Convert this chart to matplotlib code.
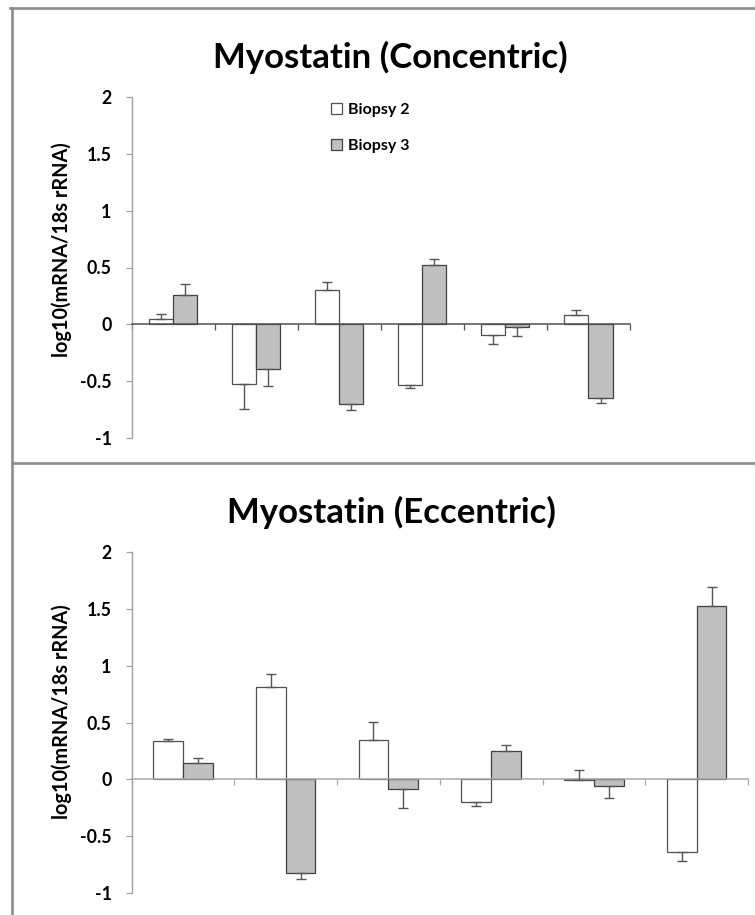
import matplotlib
matplotlib.use("Agg")
import matplotlib.pyplot as plt
from matplotlib.patches import Patch
from matplotlib.lines import Line2D
import numpy as np

W, H, DPI = 755, 915, 100

# ---------------- data ----------------
groups = ["1", "2", "3", "4", "5", "6"]          # unlabeled categories
series = ["Biopsy 2", "Biopsy 3"]
ytick_values = [-1, -0.5, 0, 0.5, 1, 1.5, 2]
ytick_labels = ["-1", "-0.5", "0", "0.5", "1", "1.5", "2"]
ylabel_text = "log10(mRNA/18s rRNA)"
title_conc = "Myostatin (Concentric)"
title_ecc = "Myostatin (Eccentric)"

conc_b2 = [0.044, -0.528, 0.299, -0.537, -0.091, 0.079]
conc_b2_err = [0.044, 0.214, 0.074, 0.023, 0.082, 0.044]
conc_b2_dir = [1, -1, 1, -1, -1, 1]
conc_b3 = [0.255, -0.393, -0.704, 0.522, -0.020, -0.648]
conc_b3_err = [0.100, 0.150, 0.053, 0.053, 0.080, 0.047]
conc_b3_dir = [1, -1, -1, 1, -1, -1]

ecc_b2 = [0.334, 0.808, 0.343, -0.203, -0.009, -0.640]
ecc_b2_err = [0.018, 0.116, 0.160, 0.035, 0.087, 0.081]
ecc_b2_dir = [1, 1, 1, -1, 1, -1]
ecc_b3 = [0.148, -0.820, -0.081, 0.247, -0.061, 1.528]
ecc_b3_err = [0.038, 0.058, 0.175, 0.052, 0.099, 0.161]
ecc_b3_dir = [1, -1, -1, 1, -1, 1]

# ---------------- style ----------------
plt.rcParams["font.family"] = ["Lato", "DejaVu Sans"]
FRAME = "#8c8c8c"
AXIS_GRAY = "#a0a0a0"
EDGE = "#505050"
GRAY_FILL = "#c0c0c0"

fig = plt.figure(figsize=(W / DPI, H / DPI), dpi=DPI)
renderer = fig.canvas.get_renderer()


def px_axes(left, right, top, bottom):
    return fig.add_axes([left / W, 1 - bottom / H, (right - left) / W, (bottom - top) / H])


def fx(x):
    return x / W


def fy(y):
    return 1 - y / H


def fit_width(t, target):
    bb = t.get_window_extent(renderer)
    t.set_fontsize(t.get_fontsize() * target / bb.width)


def fit_height(t, target):
    bb = t.get_window_extent(renderer)
    t.set_fontsize(t.get_fontsize() * target / bb.height)


def draw_panel(ax, b2, b2e, b2d, b3, b3e, b3d, zero_color):
    x = np.arange(len(groups))
    w = 0.29
    ax.bar(x - w / 2, b2, w, color="white", edgecolor=EDGE, linewidth=0.9, zorder=2)
    ax.bar(x + w / 2, b3, w, color=GRAY_FILL, edgecolor="#404040", linewidth=0.9, zorder=2)
    for xs, v, e, d in [(x - w / 2, b2, b2e, b2d), (x + w / 2, b3, b3e, b3d)]:
        e = np.asarray(e)
        d = np.asarray(d)
        lower = np.where(d < 0, e, 0.0)
        upper = np.where(d > 0, e, 0.0)
        ax.errorbar(xs, v, yerr=[lower, upper], fmt="none", ecolor="#555555",
                    elinewidth=1.0, capsize=3.6, capthick=1.0, zorder=3)
    ax.set_xlim(-0.5, len(groups) - 0.5)
    ax.set_ylim(-1, 2)
    ax.set_yticks(ytick_values)
    ax.set_yticklabels(ytick_labels, fontweight="bold", fontsize=12.8, color="black")
    ax.set_xticks(np.arange(len(groups) + 1) - 0.5)
    ax.set_xticklabels([])
    for s in ["top", "right"]:
        ax.spines[s].set_visible(False)
    ax.spines["left"].set_color(AXIS_GRAY)
    ax.spines["left"].set_linewidth(1.0)
    ax.spines["bottom"].set_position(("data", 0))
    ax.spines["bottom"].set_color(zero_color)
    ax.spines["bottom"].set_linewidth(1.1)
    ax.tick_params(axis="y", direction="out", length=4.3, width=0.9, color=AXIS_GRAY, pad=10)
    ax.tick_params(axis="x", direction="out", length=4.3, width=0.9, color=zero_color)
    ax.set_facecolor("none")


# top panel
ax1 = px_axes(131.5, 630, 97, 438)
draw_panel(ax1, conc_b2, conc_b2_err, conc_b2_dir, conc_b3, conc_b3_err, conc_b3_dir, "#505050")

# bottom panel
ax2 = px_axes(131.5, 748, 552, 893)
draw_panel(ax2, ecc_b2, ecc_b2_err, ecc_b2_dir, ecc_b3, ecc_b3_err, ecc_b3_dir, "#a8a8a8")

# legend (top panel only)
handles = [Patch(facecolor="white", edgecolor=EDGE, linewidth=0.9),
           Patch(facecolor=GRAY_FILL, edgecolor="#404040", linewidth=0.9)]
leg = ax1.legend(handles, series, loc="upper left",
                 bbox_to_anchor=((331 - 131.5) / 498.5, (438 - 103) / 341),
                 frameon=False, borderpad=0, borderaxespad=0,
                 handlelength=0.68, handleheight=0.72, handletextpad=0.36,
                 labelspacing=1.35, prop={"weight": "bold", "size": 11.5})

# titles
t1 = fig.text(fx(390), fy(68), title_conc, ha="center", va="baseline",
              fontweight="bold", fontsize=24)
fit_width(t1, 355)
t2 = fig.text(fx(391), fy(523), title_ecc, ha="center", va="baseline",
              fontweight="bold", fontsize=t1.get_fontsize())

# y labels
y1 = fig.text(fx(62), fy(250), ylabel_text, rotation=90, ha="center", va="center",
              fontweight="bold", fontsize=11)
fit_height(y1, 214)
y2 = fig.text(fx(62), fy(712), ylabel_text, rotation=90, ha="center", va="center",
              fontweight="bold", fontsize=y1.get_fontsize())

# chart frames
for (xa, ya, xb, yb) in [(10, 8, 755, 8), (11.5, 8, 11.5, 915), (11.5, 463, 755, 463)]:
    fig.add_artist(Line2D([fx(xa), fx(xb)], [fy(ya), fy(yb)], color=FRAME,
                          linewidth=1.9, transform=fig.transFigure))

fig.savefig("out.png", dpi=DPI)
